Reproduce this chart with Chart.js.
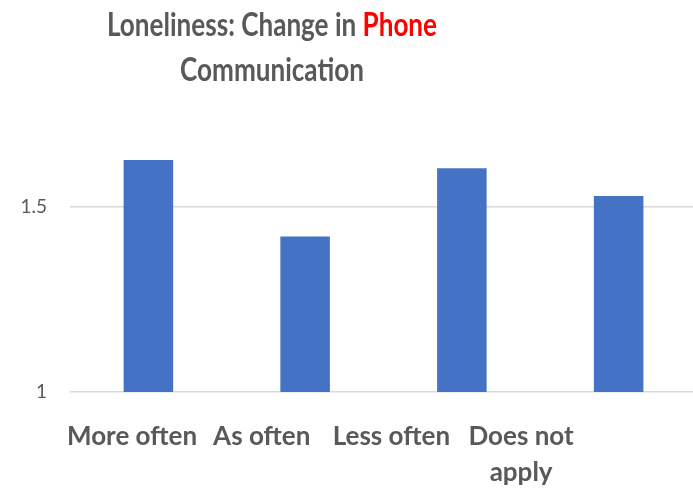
<!DOCTYPE html>
<html>
<head>
<meta charset="utf-8">
<script src="https://cdn.jsdelivr.net/npm/chart.js@4/dist/chart.umd.min.js"></script>
<style>
  html, body { margin: 0; padding: 0; background: #ffffff; }
  #wrap { position: relative; width: 693px; height: 489px; overflow: hidden; }
  #title {
    position: absolute; left: 0; top: 1px; width: 544px;
    text-align: center; font-family: Lato, sans-serif; font-weight: bold;
    font-size: 32px; line-height: 45px; color: #595959; z-index: 2;
    transform: scaleX(0.815); transform-origin: 272px 0;
  }
  #title .hl { color: #FF0000; }
  canvas { position: absolute; left: 0; top: 0; }
</style>
</head>
<body>
<div id="wrap">
  <div id="title">Loneliness: Change in <span class="hl">Phone</span><br>Communication</div>
  <canvas id="c" width="697" height="489"></canvas>
</div>
<script>
const categories = ['More often', 'As often', 'Less often', ['Does not', 'apply']];
const values = [1.627, 1.42, 1.605, 1.530];
const yTicks = [1, 1.5];
const yMin = 1;
const yMax = 1.8;
// label row in the reference sits left of the bars: first label centre and spacing (px)
const labelStart = 132, labelStep = 129.7, plotLeft = 70, plotRight = 697;
const labMin = (plotLeft - labelStart) / labelStep;
const labMax = labMin + (plotRight - plotLeft) / labelStep;

new Chart(document.getElementById('c'), {
  type: 'bar',
  data: {
    labels: categories,
    datasets: [{
      data: values,
      backgroundColor: '#4472C4',
      borderWidth: 0,
      barPercentage: 0.316,
      categoryPercentage: 1.0
    }]
  },
  options: {
    responsive: false,
    animation: false,
    layout: { padding: { top: 96, right: 0, left: 0, bottom: 0 } },
    plugins: { legend: { display: false }, title: { display: false }, tooltip: { enabled: false } },
    scales: {
      x: { display: false },
      xl: {
        type: 'linear', position: 'bottom', axis: 'x',
        offset: false, bounds: 'data',
        min: labMin, max: labMax,
        grid: { display: false, drawTicks: false, offset: false },
        border: { display: false },
        afterBuildTicks: (s) => { s.ticks = categories.map((c, i) => ({ value: i })); },
        ticks: {
          color: '#595959', autoSkip: false, maxRotation: 0, padding: 26,
          font: { family: 'Lato', weight: 'bold', size: 26, lineHeight: 1.4 },
          callback: (v) => categories[Math.round(v)]
        },
        afterFit: (s) => { s.height = 97; }
      },
      y: {
        min: yMin, max: yMax,
        grid: { color: '#d9d9d9', lineWidth: 1.5, drawTicks: false },
        border: { display: false },
        afterBuildTicks: (s) => { s.ticks = yTicks.map(v => ({ value: v })); },
        ticks: {
          color: '#595959', padding: 23,
          font: { family: 'Lato', size: 19 },
          callback: (v) => String(v)
        },
        afterFit: (s) => { s.width = 70; }
      }
    }
  }
});
</script>
</body>
</html>
